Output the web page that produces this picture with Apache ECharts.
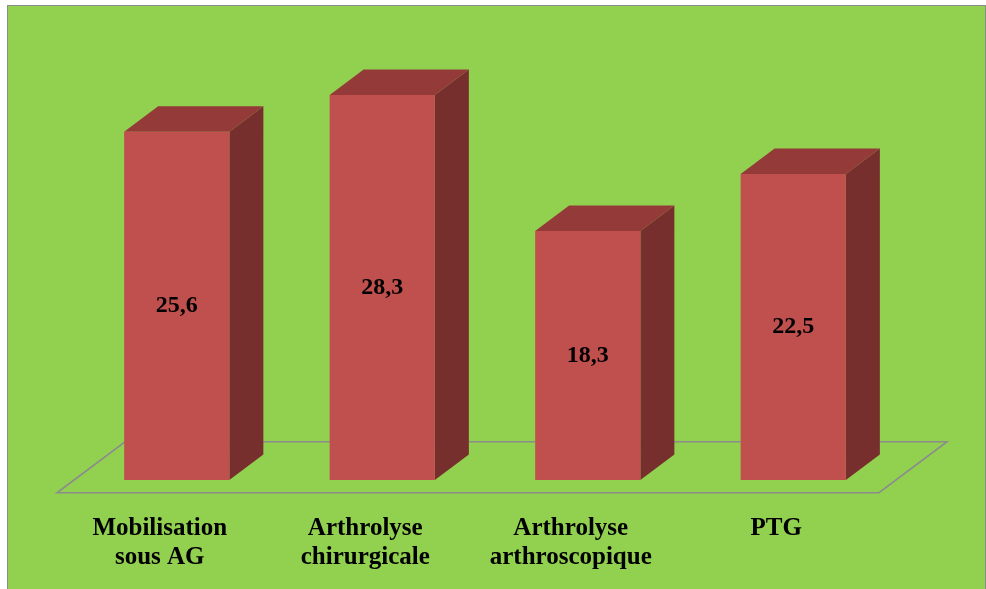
<!DOCTYPE html>
<html><head><meta charset="utf-8">
<script src="https://cdn.jsdelivr.net/npm/echarts@6/dist/echarts.min.js"></script>
<style>html,body{margin:0;padding:0;background:#fff}#c{width:986px;height:589px}</style>
</head><body><div id="c"></div>
<script>
var categories = ['Mobilisation\nsous AG', 'Arthrolyse\nchirurgicale', 'Arthrolyse\narthroscopique', 'PTG'];
var values = [25.6, 28.3, 18.3, 22.5];
var valueLabels = ['25,6', '28,3', '18,3', '22,5'];

var FRONT = '#C0504D', TOP = '#943A38', SIDE = '#772F2E';
var DX = 68, DY = 51; // floor depth
var chart = echarts.init(document.getElementById('c'));

function renderBar(params, api) {
  var i = api.value(0), v = api.value(1);
  var base = api.coord([i, 0]);
  var topP = api.coord([i, v]);
  var bw = api.size([1, 0])[0] * 0.512;
  var x0 = base[0] - bw / 2, x1 = base[0] + bw / 2;
  var yb = base[1], yt = topP[1];
  var dx = DX * 0.5, dy = DY * 0.5;
  var cc = base[0] - DX * 0.25;
  return {
    type: 'group',
    children: [
      {type: 'polygon', shape: {points: [[x1, yt], [x1 + dx, yt - dy], [x1 + dx, yb - dy], [x1, yb]]}, style: {fill: SIDE}},
      {type: 'polygon', shape: {points: [[x0, yt], [x0 + dx, yt - dy], [x1 + dx, yt - dy], [x1, yt]]}, style: {fill: TOP}},
      {type: 'rect', shape: {x: x0, y: yt, width: bw, height: yb - yt}, style: {fill: FRONT}},
      {type: 'text', x: base[0], y: (yt + yb) / 2, style: {text: valueLabels[i], fill: '#000', font: 'bold 24px "Liberation Serif", "Times New Roman", serif', align: 'center', verticalAlign: 'middle'}},
      {type: 'text', x: cc, y: yb + 34, style: {text: categories[i], fill: '#000', font: 'bold 25px "Liberation Serif", "Times New Roman", serif', align: 'center', verticalAlign: 'top', lineHeight: 29}}
    ]
  };
}

function renderFloor(params, api) {
  var bw = api.size([1, 0])[0];
  var a = api.coord([0, 0]), b = api.coord([categories.length - 1, 0]);
  var xl = a[0] - bw / 2, xr = b[0] + bw / 2, y = a[1];
  var f = 0.25, k = 0.75;
  var pts = [
    [xl - DX * f, y + DY * f], [xr - DX * f, y + DY * f],
    [xr + DX * k, y - DY * k], [xl + DX * k, y - DY * k]
  ];
  return {type: 'polygon', shape: {points: pts}, style: {fill: 'none', stroke: '#8C8C8C', lineWidth: 1.6}};
}

chart.setOption({
  backgroundColor: '#ffffff',
  animation: false,
  graphic: [
    {type: 'rect', shape: {x: 7, y: 5, width: 979, height: 584}, style: {fill: '#8C8C8C'}, z: -10},
    {type: 'rect', shape: {x: 8, y: 6, width: 977, height: 583}, style: {fill: '#92D050'}, z: -9}
  ],
  grid: {left: 74, right: 90, top: 72, bottom: 109},
  xAxis: {type: 'category', data: categories, show: false},
  yAxis: {type: 'value', min: 0, max: 30, show: false},
  series: [
    {type: 'custom', renderItem: renderFloor, data: [[0, 0]], z: 1, silent: true},
    {type: 'custom', renderItem: renderBar, data: values.map(function (v, i) { return [i, v]; }), z: 2, silent: true}
  ]
});
</script></body></html>
